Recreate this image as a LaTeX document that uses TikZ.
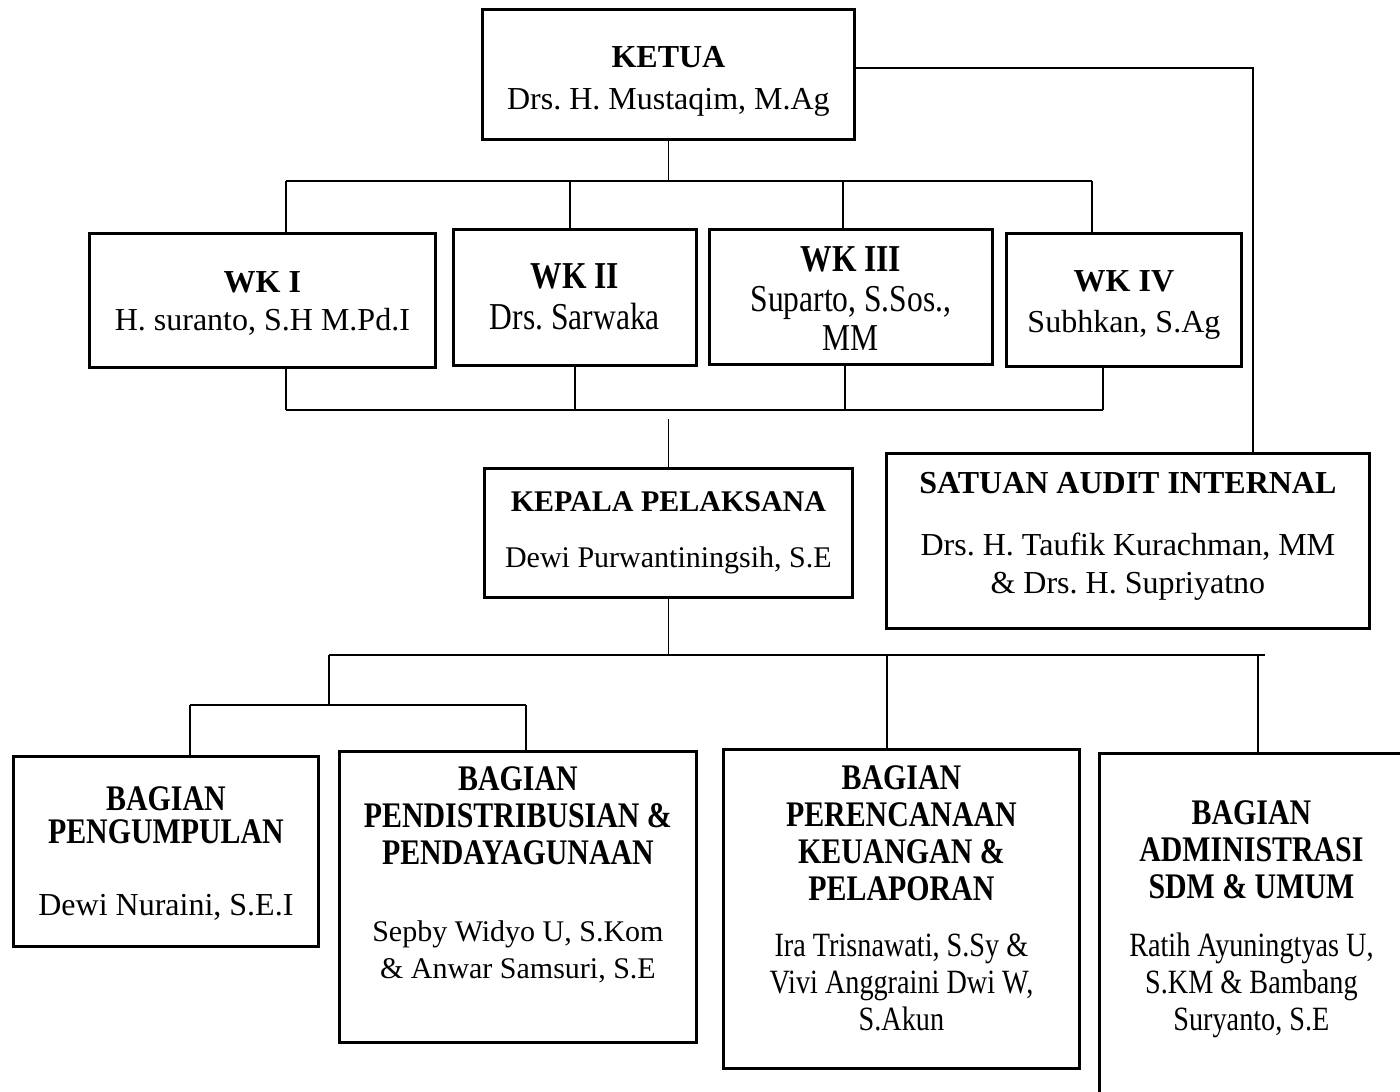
\documentclass[tikz,border=0pt]{standalone}
\usepackage{fontspec}
\setmainfont{Liberation Serif}
\newfontfamily\narrowfont[FakeStretch=0.83]{Liberation Serif}
\frenchspacing

\newcommand{\hstrut}[1]{\rule{0pt}{#1}}
\newcommand{\dstrut}[1]{\rule[-#1]{0pt}{#1}}
\newcommand{\bagtitle}[1]{{\fontsize{18}{18.5}\selectfont\bfseries #1}}
\newcommand{\plainname}[2]{{\rmfamily\fontsize{#1}{18.5}\selectfont #2}}

\begin{document}
\begin{tikzpicture}[x=0.5pt, y=-0.5pt,
    box/.style = {draw, line width=1.4pt, inner sep=0pt,
      align=center, anchor=north west},
    bagian/.style = {box, font=\narrowfont\fontsize{17}{18.5}\selectfont},
    link/.style = {line width=0.6pt}]
  \useasboundingbox (0,0) rectangle (1400,1091);

  % pimpinan
  \node[box, minimum width=186pt, font=\fontsize{16}{21}\selectfont]
    (ketua) at (481,8)
    {\hstrut{29pt}\textbf{KETUA}\\ Drs. H. Mustaqim, M.Ag\dstrut{15pt}};
  \node[box, minimum width=173pt, font=\fontsize{16}{19}\selectfont]
    (wk1) at (88,232)
    {\hstrut{29.5pt}\textbf{WK I}\\ H. suranto, S.H M.Pd.I\dstrut{18.5pt}};
  \node[box, minimum width=121.5pt, font=\narrowfont\fontsize{19}{20.5}\selectfont]
    (wk2) at (452,228)
    {\hstrut{29.75pt}\textbf{WK II}\\ Drs. Sarwaka\dstrut{17.75pt}};
  \node[box, minimum width=141.5pt, font=\narrowfont\fontsize{19}{19.75}\selectfont]
    (wk3) at (708,228)
    {\hstrut{21.25pt}\textbf{WK III}\\ Suparto, S.Sos.,\\ MM\dstrut{6.75pt}};
  \node[box, minimum width=117.5pt, font=\fontsize{16}{20.5}\selectfont]
    (wk4) at (1005,232)
    {\hstrut{29pt}\textbf{WK IV}\\ Subhkan, S.Ag\dstrut{17pt}};
  \node[box, minimum width=184pt, font=\fontsize{15}{18}\selectfont]
    (kepala) at (483,467)
    {\hstrut{21.5pt}\textbf{KEPALA PELAKSANA}\\[10pt] Dewi Purwantiningsih, S.E\dstrut{15pt}};
  \node[box, minimum width=241.5pt, font=\fontsize{16}{19}\selectfont]
    (sai) at (885,452)
    {\hstrut{20pt}\textbf{SATUAN AUDIT INTERNAL}\\[12pt]
     Drs. H. Taufik Kurachman, MM\\ \& Drs. H. Supriyatno\dstrut{17.5pt}};

  % bagian
  \node[bagian, minimum width=152.5pt] (peng) at (12,755)
    {\hstrut{27pt}\bagtitle{BAGIAN}\\[-2pt] \bagtitle{PENGUMPULAN}\\[17.5pt]
     \plainname{16}{Dewi Nuraini, S.E.I}\dstrut{15.5pt}};
  \node[bagian, minimum width=178.5pt] (dist) at (338,750)
    {\hstrut{19.5pt}\bagtitle{BAGIAN}\\ \bagtitle{PENDISTRIBUSIAN \&}\\
     \bagtitle{PENDAYAGUNAAN}\\[20pt]
     \plainname{15}{Sepby Widyo U, S.Kom}\\
     \plainname{15}{\& Anwar Samsuri, S.E}\dstrut{32pt}};
  \node[bagian, minimum width=178pt] (renc) at (722,748)
    {\hstrut{20pt}\bagtitle{BAGIAN}\\ \bagtitle{PERENCANAAN}\\
     \bagtitle{KEUANGAN \&}\\ \bagtitle{PELAPORAN}\\[9.5pt]
     Ira Trisnawati, S.Sy \&\\ Vivi Anggraini Dwi W,\\ S.Akun\dstrut{19pt}};
  \node[bagian, minimum width=152pt] (adm) at (1098,752)
    {\hstrut{35.5pt}\bagtitle{BAGIAN}\\ \bagtitle{ADMINISTRASI}\\
     \bagtitle{SDM \& UMUM}\\[10.5pt]
     Ratih Ayuningtyas U,\\ S.KM \& Bambang\\ Suryanto, S.E\dstrut{45pt}};

  % garis ketua - wakil ketua
  \coordinate (t1) at (286,181);
  \coordinate (t2) at (570,181);
  \coordinate (t3) at (843,181);
  \coordinate (t4) at (1092,181);
  \draw[link] (ketua.south) -- (ketua.south |- t1);
  \draw[link] (t1) -- (t4);
  \foreach \i in {1,...,4}
    \draw[link] (t\i) -- (t\i |- wk\i.north);

  % garis wakil ketua - kepala pelaksana
  \coordinate (b1) at (286,410);
  \coordinate (b2) at (575,410);
  \coordinate (b3) at (845,410);
  \coordinate (b4) at (1103,410);
  \draw[link] (b1) -- (b4);
  \foreach \i in {1,...,4}
    \draw[link] (b\i) -- (b\i |- wk\i.south);
  \draw[link] (kepala.north) -- ++(0,-48);

  % garis audit
  \coordinate (a1) at (1253,68);
  \draw[link] (a1 -| ketua.east) -- (a1) -- (a1 |- sai.north);

  % garis bagian
  \coordinate (c1) at (329,655);
  \coordinate (c2) at (887,655);
  \coordinate (c3) at (1258,655);
  \coordinate (c4) at (1265,655);
  \coordinate (d1) at (190,705);
  \coordinate (d2) at (526,705);
  \draw[link] (kepala.south) -- (kepala.south |- c1);
  \draw[link] (c1) -- (c4);
  \draw[link] (c1) -- (c1 |- d1);
  \draw[link] (d1) -- (d2);
  \draw[link] (d1) -- (d1 |- peng.north);
  \draw[link] (d2) -- (d2 |- dist.north);
  \draw[link] (c2) -- (c2 |- renc.north);
  \draw[link] (c3) -- (c3 |- adm.north);
\end{tikzpicture}
\end{document}
